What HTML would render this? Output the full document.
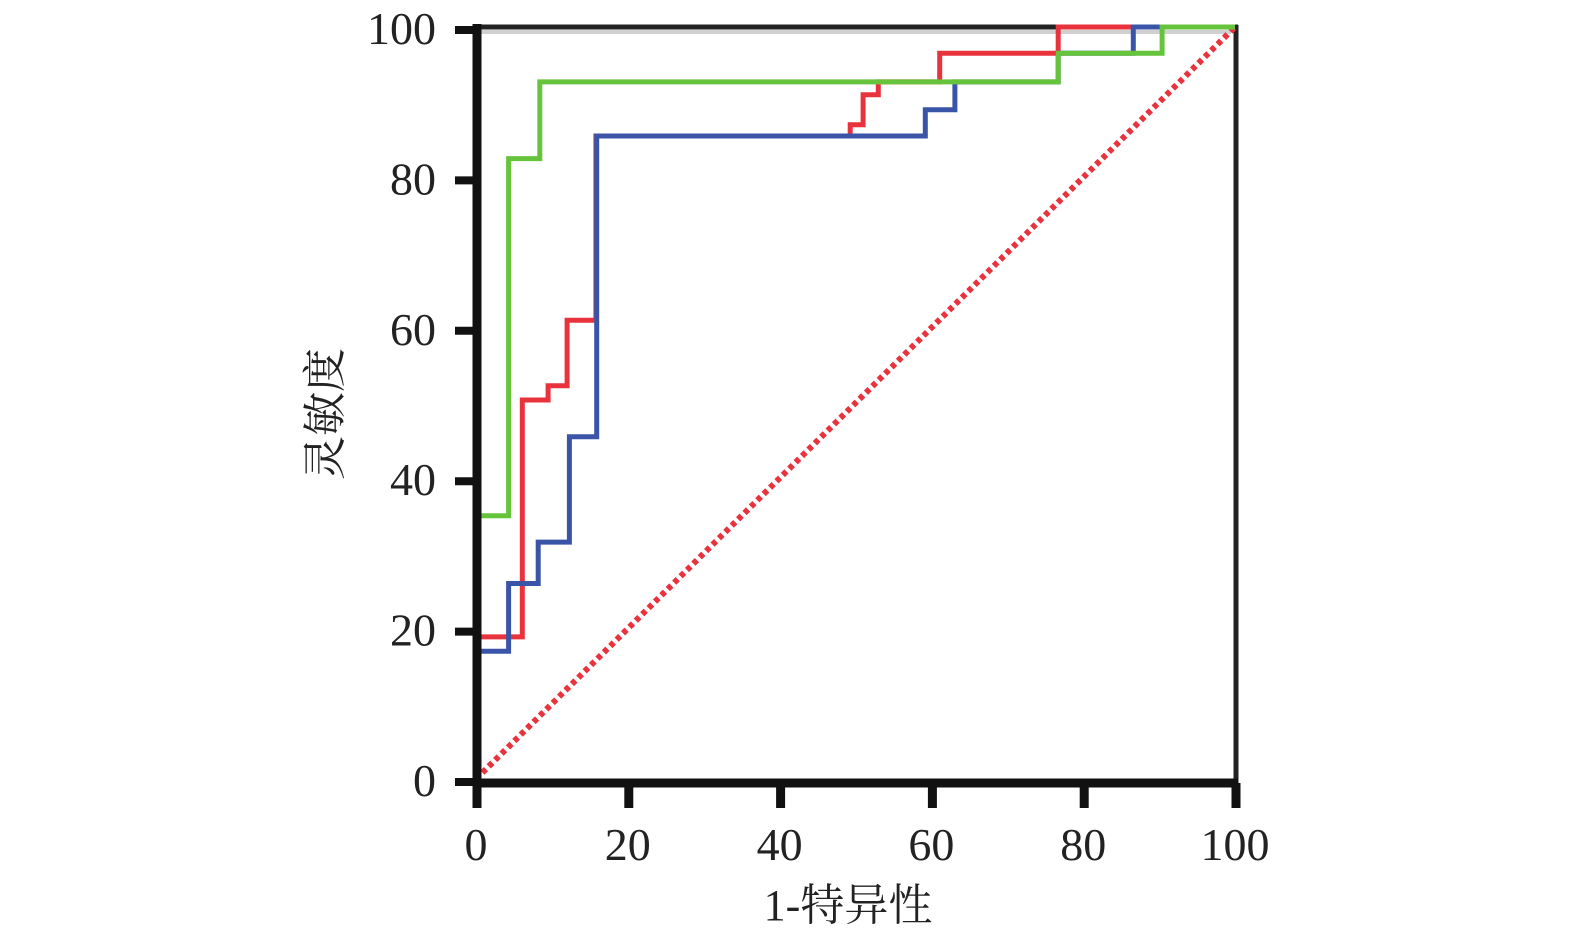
<!DOCTYPE html>
<html><head><meta charset="utf-8"><style>
html,body{margin:0;padding:0;background:#fff;}
svg{display:block;}
text{font-family:"Liberation Serif","Noto Serif CJK SC",serif;fill:#222;}
</style></head><body>
<svg id="chart" width="1575" height="936" viewBox="0 0 1575 936">
<g id="plot"></g>
</svg>
<script>
const xTicks=[0,20,40,60,80,100];
const yTicks=[0,20,40,60,80,100];
const greenX=[0,4.3,4.3,8.4,8.4,76.7,76.7,90.4,90.4,100];
const greenY=[35,35,82.5,82.5,92.7,92.7,96.5,96.5,100,100];
const redX=[0,6.1,6.1,9.5,9.5,12,12,15.8,15.8,49.3,49.3,51,51,53,53,61.1,61.1,76.7,76.7,100];
const redY=[18.9,18.9,50.4,50.4,52.3,52.3,61,61,85.5,85.5,87,87,91,91,92.7,92.7,96.5,96.5,100,100];
const blueX=[0,4.3,4.3,8.2,8.2,12.3,12.3,15.9,15.9,59.2,59.2,63.1,63.1,76.7,76.7,86.6,86.6,100];
const blueY=[17,17,26,26,31.5,31.5,45.5,45.5,85.5,85.5,89,89,92.7,92.7,96.5,96.5,100,100];
const refX=[0,100];
const refY=[0,100];

const NS='http://www.w3.org/2000/svg';
const g=document.getElementById('plot');
const X=v=>476+7.59*v, Y=v=>779-7.52*v;
function mk(t,a){const e=document.createElementNS(NS,t);for(const k in a)e.setAttribute(k,a[k]);g.appendChild(e);return e;}
function path(xs,ys){return xs.map((x,i)=>(i?'L':'M')+X(x).toFixed(1)+' '+Y(ys[i]).toFixed(1)).join(' ');}

let fr=mk('line',{x1:X(0),y1:27,x2:X(100)+3,y2:27,stroke:'#222','stroke-width':5});


fr=mk('line',{x1:X(100)+1,y1:25,x2:X(100)+1,y2:783,stroke:'#222','stroke-width':5});


fr=mk('line',{x1:X(0)+4,y1:32,x2:X(100)-4,y2:32,stroke:'#d0d0d0','stroke-width':4});



let rl=mk('path',{d:path(refX,refY),stroke:'#e8323c','stroke-width':6,'stroke-dasharray':'5 4',fill:'none'});



const series=[['red-roc-curve',redX,redY,'#e8323c',5],['blue-roc-curve',blueX,blueY,'#3a55a8',5],['green-roc-curve',greenX,greenY,'#66c43c',5]];
series.forEach(s=>{
 const p=mk('path',{d:path(s[1],s[2]),stroke:s[3],'stroke-width':s[4],fill:'none','stroke-linejoin':'miter'});
 
 
});

let ax=mk('line',{x1:X(0)-2,y1:783,x2:X(100)+3,y2:783,stroke:'#111','stroke-width':9});


ax=mk('line',{x1:X(0)+1,y1:24,x2:X(0)+1,y2:787,stroke:'#111','stroke-width':9});



xTicks.forEach(v=>{
 const t=mk('line',{x1:X(v)+1,y1:783,x2:X(v)+1,y2:808,stroke:'#111','stroke-width':9});
 
 
 const l=mk('text',{x:X(v),y:860,'font-size':46,'text-anchor':'middle'});
 l.textContent=v;
 
 
});
yTicks.forEach(v=>{
 const t=mk('line',{x1:455,y1:Y(v)+3,x2:X(0),y2:Y(v)+3,stroke:'#111','stroke-width':8});
 
 
 const l=mk('text',{x:436,y:Y(v)+17,'font-size':46,'text-anchor':'end'});
 l.textContent=v;
 
 
});
let tt=mk('text',{x:848,y:920,'font-size':44,'text-anchor':'middle'});
tt.textContent='1-特异性';


tt=mk('text',{x:0,y:0,'font-size':44,'text-anchor':'middle',transform:'translate(340,414) rotate(-90)'});
tt.textContent='灵敏度';


</script>
</body></html>
